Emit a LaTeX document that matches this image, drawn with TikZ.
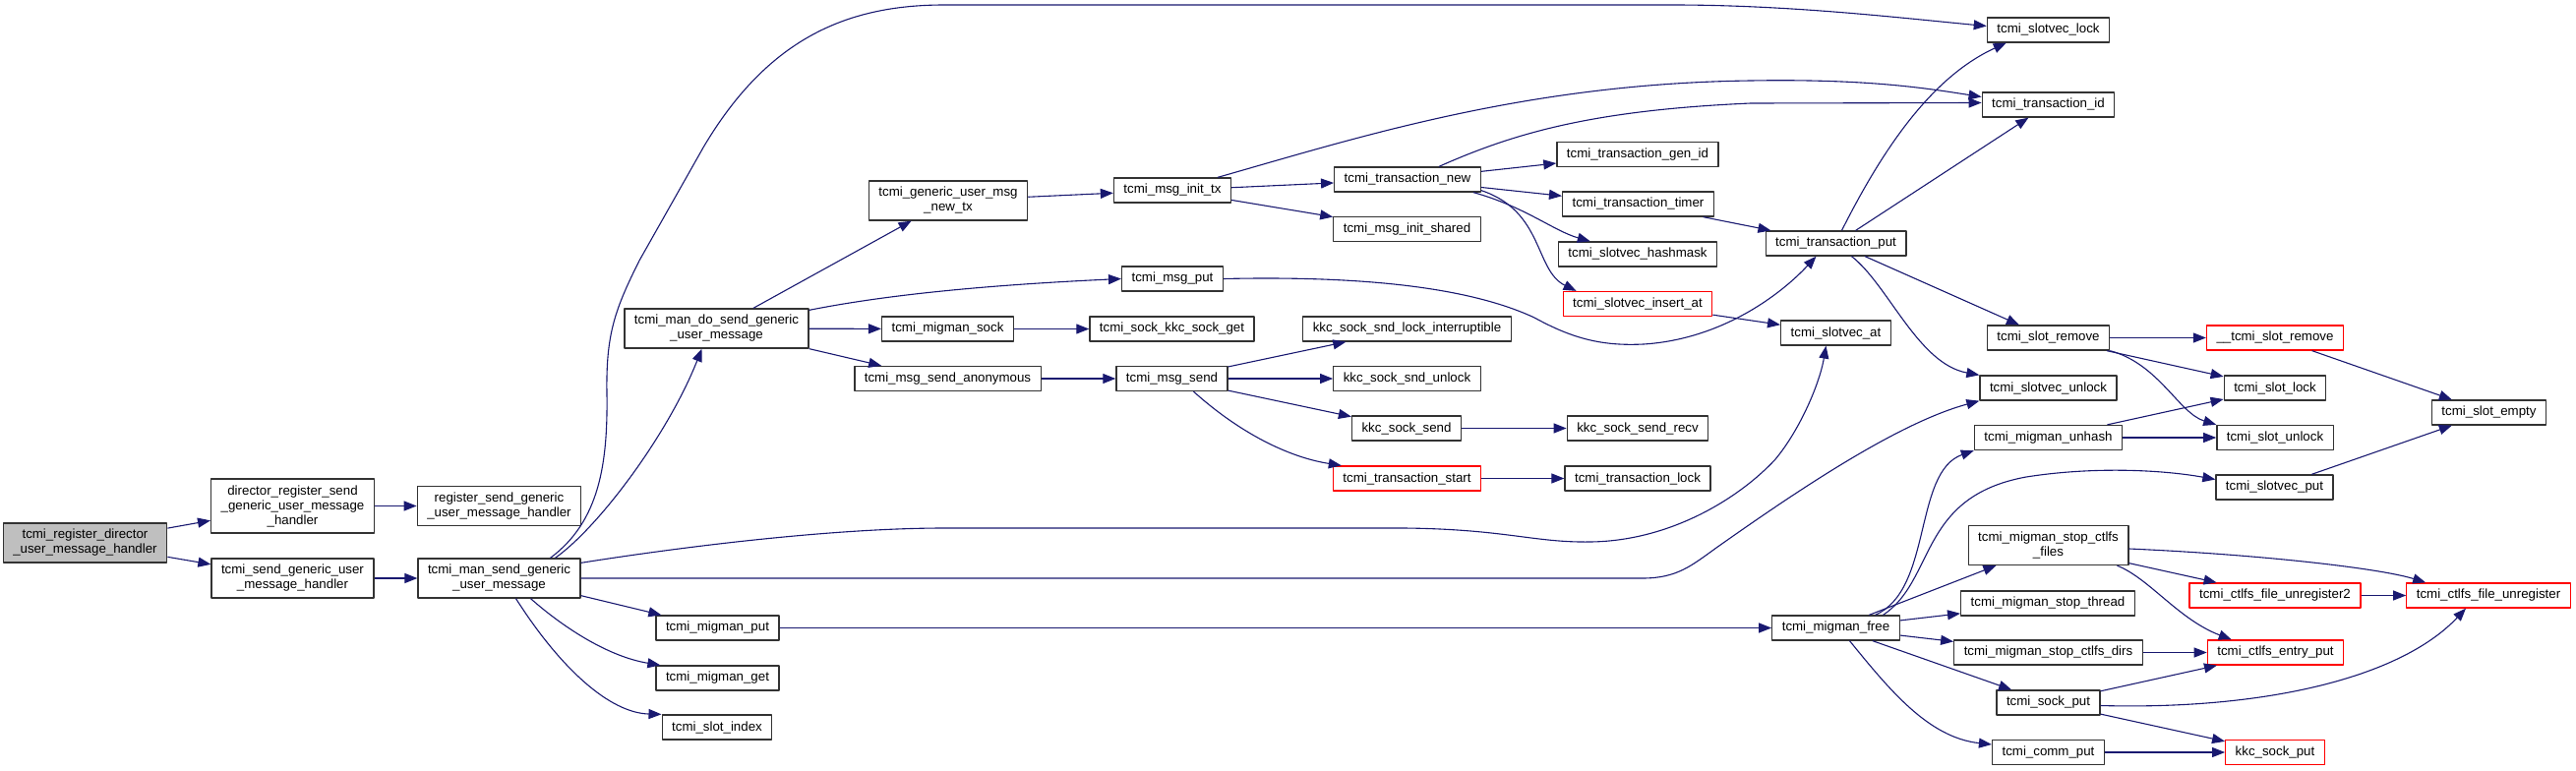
\documentclass[tikz,border=0pt]{standalone}
\usepackage{fontspec}
\setmainfont{Liberation Sans}
\usetikzlibrary{arrows.meta}
\definecolor{edgeblue}{HTML}{191970}
\definecolor{rootgray}{HTML}{BFBFBF}
\definecolor{boxred}{HTML}{FF0000}
\begin{document}
\begin{tikzpicture}[x=1pt,y=-1pt,line join=round,font=\fontsize{13.3}{15}\selectfont,
	fn/.style={draw=black!80,line width=1.3pt,fill=white,inner xsep=10pt,inner ysep=3pt,minimum height=25pt,align=center},
	two/.style={minimum height=40pt},
	three/.style={minimum height=55pt},
	rootfn/.style={fn,fill=rootgray},
	redfn/.style={fn,draw=boxred},
	callarrow/.style={draw=edgeblue,line width=1.1pt,-{Triangle[length=13pt,width=10pt]}}]
			\useasboundingbox (0,0) rectangle (2619,784);
			% callers
			\node[rootfn,two] (root) at (86.5,552) {tcmi\_register\_director\\\_user\_message\_handler};
			\node[fn,three] (dirreg) at (297.5,514.5) {director\_register\_send\\\_generic\_user\_message\\\_handler};
			\node[fn,two] (regsend) at (507.5,514.5) {register\_send\_generic\\\_user\_message\_handler};
			\node[fn,two] (sendgen) at (297.5,588) {tcmi\_send\_generic\_user\\\_message\_handler};
			\node[fn,two] (mansend) at (507.5,588) {tcmi\_man\_send\_generic\\\_user\_message};
			% second level
			\node[fn,two] (mandosend) at (728.5,334) {tcmi\_man\_do\_send\_generic\\\_user\_message};
			\node[fn] (migput) at (729.5,638.5) {tcmi\_migman\_put};
			\node[fn] (migget) at (729.5,689.5) {tcmi\_migman\_get};
			\node[fn] (slotindex) at (729,739.5) {tcmi\_slot\_index};
			\node[fn,two] (newtx) at (964,204) {tcmi\_generic\_user\_msg\\\_new\_tx};
			\node[fn] (migsock) at (963.5,334.5) {tcmi\_migman\_sock};
			\node[fn] (sendanon) at (963.5,385) {tcmi\_msg\_send\_anonymous};
			\node[fn] (initx) at (1192,193.5) {tcmi\_msg\_init\_tx};
			\node[fn] (msgput) at (1192,283.5) {tcmi\_msg\_put};
			\node[fn] (kkcget) at (1191.5,334.5) {tcmi\_sock\_kkc\_sock\_get};
			\node[fn] (msgsend) at (1191.5,385) {tcmi\_msg\_send};
			% transactions and sockets
			\node[fn] (transnew) at (1431,182.5) {tcmi\_transaction\_new};
			\node[fn] (initshared) at (1430.5,233) {tcmi\_msg\_init\_shared};
			\node[fn] (sndlock) at (1430.5,334.5) {kkc\_sock\_snd\_lock\_interruptible};
			\node[fn] (sndunlock) at (1430.5,385) {kkc\_sock\_snd\_unlock};
			\node[fn] (kkcsend) at (1430,435.5) {kkc\_sock\_send};
			\node[redfn] (transstart) at (1430.5,486.5) {tcmi\_transaction\_start};
			\node[fn] (genid) at (1665,157) {tcmi\_transaction\_gen\_id};
			\node[fn] (timer) at (1665.5,207.5) {tcmi\_transaction\_timer};
			\node[fn] (hashmask) at (1665,258.5) {tcmi\_slotvec\_hashmask};
			\node[redfn] (insertat) at (1665,309) {tcmi\_slotvec\_insert\_at};
			\node[fn] (sendrecv) at (1665,435.5) {kkc\_sock\_send\_recv};
			\node[fn] (translock) at (1665,486.5) {tcmi\_transaction\_lock};
			\node[fn] (transput) at (1866.5,247.5) {tcmi\_transaction\_put};
			\node[fn] (slotvecat) at (1866.5,338.5) {tcmi\_slotvec\_at};
			\node[fn] (migfree) at (1866.5,638.5) {tcmi\_migman\_free};
			% right part
			\node[fn] (slotveclock) at (2082.5,30.5) {tcmi\_slotvec\_lock};
			\node[fn] (transid) at (2082.5,106.5) {tcmi\_transaction\_id};
			\node[fn] (slotremove) at (2082.5,343.5) {tcmi\_slot\_remove};
			\node[fn] (slotvecunlock) at (2082.5,394.5) {tcmi\_slotvec\_unlock};
			\node[fn] (unhash) at (2082.5,445) {tcmi\_migman\_unhash};
			\node[fn,two] (stopfiles) at (2082.5,554.5) {tcmi\_migman\_stop\_ctlfs\\\_files};
			\node[fn] (stopthread) at (2082,613.5) {tcmi\_migman\_stop\_thread};
			\node[fn] (stopdirs) at (2082.5,663.5) {tcmi\_migman\_stop\_ctlfs\_dirs};
			\node[fn] (sockput) at (2082.5,714.5) {tcmi\_sock\_put};
			\node[fn] (commput) at (2082.5,765) {tcmi\_comm\_put};
			\node[redfn] (uslotremove) at (2313,343.5) {\_\_tcmi\_slot\_remove};
			\node[fn] (slotlock) at (2313,394.5) {tcmi\_slot\_lock};
			\node[fn] (slotunlock) at (2313,445) {tcmi\_slot\_unlock};
			\node[fn] (slotvecput) at (2312.5,495.5) {tcmi\_slotvec\_put};
			\node[redfn] (unreg2) at (2313,605.5) {tcmi\_ctlfs\_file\_unregister2};
			\node[redfn] (entryput) at (2313.5,663.5) {tcmi\_ctlfs\_entry\_put};
			\node[redfn] (kkcput) at (2313,765) {kkc\_sock\_put};
			\node[fn] (slotempty) at (2530.5,419.5) {tcmi\_slot\_empty};
			\node[redfn] (unreg) at (2530,605.5) {tcmi\_ctlfs\_file\_unregister};
			% calls
			\draw[callarrow] (root) -- (dirreg);
			\draw[callarrow] (root) -- (sendgen);
			\draw[callarrow] (dirreg) -- (regsend);
			\draw[callarrow] (sendgen) -- (mansend);
			\draw[callarrow] ([xshift=57pt]mansend.north) .. controls (610,535) and (680,440) .. ([xshift=-15pt]mandosend.south);
			\draw[callarrow] ([xshift=52pt]mansend.north) .. controls (610,530) and (618,470) .. (617,400) .. controls (616,340) and (625,315) .. (650,265) -- (715,150) .. controls (780,40) and (860,5) .. (960,5) -- (1700,5) .. controls (1820,5) and (1930,18) .. ([yshift=4pt]slotveclock.west);
			\draw[callarrow] ([yshift=-5pt]mansend.north east) .. controls (700,555) and (850,537) .. (960,537) -- (1427,537) .. controls (1530,538) and (1560,552) .. (1617,551) .. controls (1700,550) and (1770,505) .. (1805,467) .. controls (1830,437) and (1850,390) .. ([xshift=-10pt]slotvecat.south);
			\draw[callarrow] (mansend.east) -- (1670,588) .. controls (1705,588) and (1720,575) .. (1745,557) .. controls (1830,497) and (1930,430) .. (slotvecunlock.south west);
			\draw[callarrow] ([yshift=3pt]mansend.south east) -- ([xshift=6pt]migput.north west);
			\draw[callarrow] ([xshift=32pt]mansend.south) .. controls (575,640) and (620,668) .. ([xshift=5pt]migget.north west);
			\draw[callarrow] ([xshift=17pt]mansend.south) .. controls (570,680) and (620,725) .. (slotindex.north west);
			\draw[callarrow] (mandosend) -- (newtx);
			\draw[callarrow] ([yshift=-2pt]mandosend.north east) .. controls (900,300) and (1000,290) .. (msgput.west);
			\draw[callarrow] (mandosend) -- (migsock);
			\draw[callarrow] (mandosend.south east) -- ([xshift=28pt]sendanon.north west);
			\draw[callarrow] (newtx) -- (initx);
			\draw[callarrow] ([xshift=46pt]initx.north) .. controls (1380,140) and (1550,85) .. (1780,82) .. controls (1900,80) and (1960,90) .. ([yshift=8pt]transid.west);
			\draw[callarrow] (initx) -- (transnew);
			\draw[callarrow] (initx) -- (initshared);
			\draw[callarrow] (msgput.east) .. controls (1400,280) and (1500,295) .. (1560,323) .. controls (1600,345) and (1630,352) .. (1671,350) .. controls (1750,345) and (1810,300) .. ([xshift=-20pt]transput.south);
			\draw[callarrow] (migsock) -- (kkcget);
			\draw[callarrow] (sendanon) -- (msgsend);
			\draw[callarrow] (msgsend) -- (sndlock);
			\draw[callarrow] (msgsend) -- (sndunlock);
			\draw[callarrow] (msgsend) -- (kkcsend);
			\draw[callarrow] ([xshift=22pt]msgsend.south) .. controls (1260,440) and (1310,465) .. ([xshift=9pt]transstart.north west);
			\draw[callarrow] ([xshift=32pt]transnew.north) .. controls (1540,135) and (1620,112) .. (1780,105) -- ([yshift=2pt]transid.west);
			\draw[callarrow] (transnew) -- (genid);
			\draw[callarrow] (transnew) -- (timer);
			\draw[callarrow] ([xshift=-8pt]transnew.south east) .. controls (1550,210) and (1580,235) .. ([xshift=33pt]hashmask.north west);
			\draw[callarrow] ([yshift=2pt]transnew.south east) .. controls (1570,215) and (1560,275) .. ([xshift=14pt]insertat.north west);
			\draw[callarrow] (timer) -- (transput);
			\draw[callarrow] (insertat) -- (slotvecat);
			\draw[callarrow] (kkcsend) -- (sendrecv);
			\draw[callarrow] (transstart) -- (translock);
			\draw[callarrow] ([xshift=6pt]transput.north) .. controls (1910,160) and (1960,80) .. ([xshift=20pt]slotveclock.south west);
			\draw[callarrow] (transput) -- (transid);
			\draw[callarrow] (transput) -- (slotremove);
			\draw[callarrow] ([xshift=16pt]transput.south) .. controls (1920,290) and (1950,370) .. (slotvecunlock.north west);
			\draw[callarrow] (slotremove) -- (uslotremove);
			\draw[callarrow] (slotremove) -- (slotlock);
			\draw[callarrow] (slotremove.south east) .. controls (2195,370) and (2215,420) .. (slotunlock.north west);
			\draw[callarrow] (uslotremove) -- (slotempty);
			\draw[callarrow] (migput) -- (migfree);
			\draw[callarrow] ([xshift=40pt]migfree.north) .. controls (1965,600) and (1945,480) .. (unhash.south west);
			\draw[callarrow] ([xshift=48pt]migfree.north) .. controls (1968,590) and (1950,505) .. (2060,485) .. controls (2130,474) and (2200,478) .. ([yshift=8pt]slotvecput.west);
			\draw[callarrow] (migfree) -- (stopfiles);
			\draw[callarrow] (migfree) -- (stopthread);
			\draw[callarrow] (migfree) -- (stopdirs);
			\draw[callarrow] (migfree) -- (sockput);
			\draw[callarrow] ([xshift=14pt]migfree.south) .. controls (1920,700) and (1960,750) .. ([yshift=8pt]commput.west);
			\draw[callarrow] (unhash) -- (slotlock);
			\draw[callarrow] (unhash) -- (slotunlock);
			\draw[callarrow] (slotvecput) -- (slotempty);
			\draw[callarrow] (stopfiles) -- (unreg2);
			\draw[callarrow] ([yshift=-3.5pt]stopfiles.east) .. controls (2300,564) and (2420,578) .. ([xshift=20pt]unreg.north west);
			\draw[callarrow] ([xshift=-12pt]stopfiles.south east) .. controls (2185,588) and (2215,630) .. ([xshift=25pt]entryput.north west);
			\draw[callarrow] (unreg2) -- (unreg);
			\draw[callarrow] (stopdirs) -- (entryput);
			\draw[callarrow] (sockput) -- (entryput);
			\draw[callarrow] ([yshift=-3pt]sockput.east) .. controls (2300,722) and (2440,690) .. ([xshift=-23pt]unreg.south);
			\draw[callarrow] (sockput) -- (kkcput);
			\draw[callarrow] (commput) -- (kkcput);
	\end{tikzpicture}
\end{document}
